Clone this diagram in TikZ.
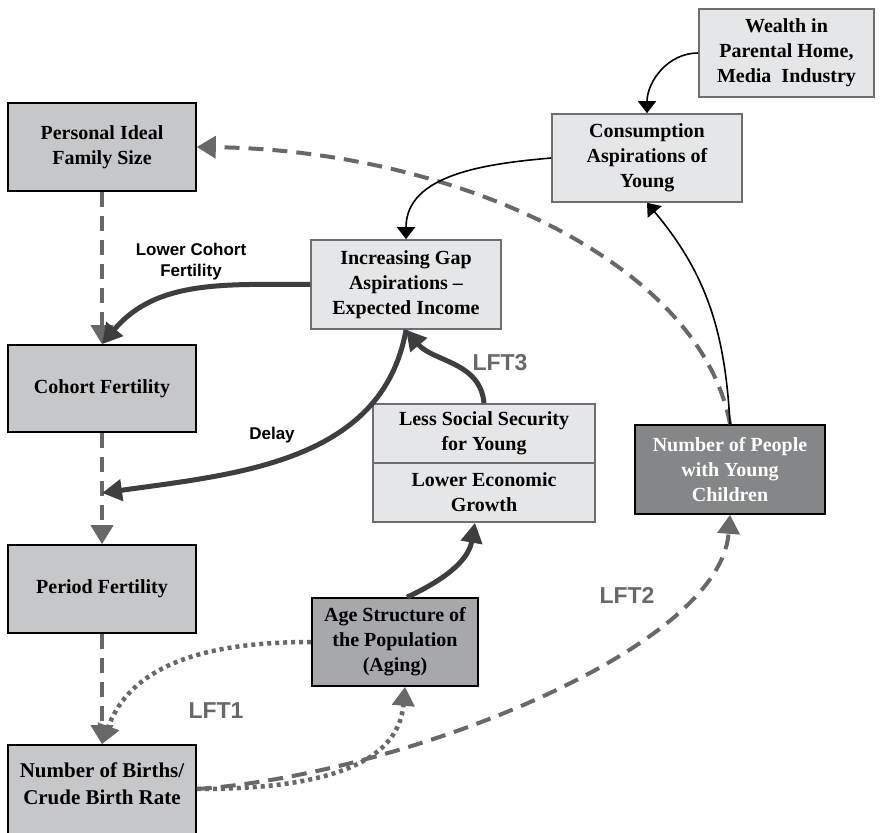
\documentclass[tikz,border=0pt]{standalone}
\usepackage{fontspec}
\setmainfont{Liberation Serif}
\setsansfont{Liberation Sans}
\usetikzlibrary{arrows.meta}
\definecolor{gfill}{HTML}{C6C7C9}
\definecolor{lfill}{HTML}{E5E6E7}
\definecolor{lborder}{HTML}{6D6E71}
\definecolor{afill}{HTML}{A6A8AB}
\definecolor{pfill}{HTML}{858688}
\definecolor{dgray}{HTML}{67686A}
\definecolor{dkline}{HTML}{3E3E40}
\tikzset{
  base/.style={align=center, font=\fontsize{20}{25}\selectfont\bfseries, inner sep=0pt},
  gbox/.style={base, draw=black, line width=1.6pt, fill=gfill},
  lbox/.style={base, draw=lborder, line width=1.6pt, fill=lfill},
  abox/.style={base, draw=black, line width=1.6pt, fill=afill},
  pbox/.style={base, draw=black, line width=1.6pt, fill=pfill, text=white},
  dashline/.style={draw=dgray, line width=4pt, dash pattern=on 15pt off 9pt, -{Triangle[length=19pt,width=22pt]}},
  dotline/.style={draw=dgray, line width=4.5pt, dash pattern=on 4pt off 4pt, -{Triangle[length=19pt,width=22pt]}},
  thickline/.style={draw=dkline, line width=5pt, -{Triangle[length=20pt,width=21pt]}},
  thinline/.style={draw=black, line width=1.6pt, -{Triangle[length=12pt,width=18pt]}},
  lftlabel/.style={font=\sffamily\bfseries\fontsize{23}{23}\selectfont, text=dgray, inner sep=0pt},
  smlabel/.style={font=\sffamily\bfseries\fontsize{17}{21}\selectfont, align=center, inner sep=0pt},
}
\begin{document}
\begin{tikzpicture}[x=1pt,y=1pt]
\useasboundingbox (0,0) rectangle (885,832);
% boxes
\node[gbox, minimum width=188, minimum height=88] (pers) at (102,685) {Personal Ideal\\Family Size};
\node[gbox, minimum width=188, minimum height=87] (coh) at (102,443.5) {Cohort Fertility};
\node[gbox, minimum width=188, minimum height=88] (per) at (102,243) {Period Fertility};
\node[gbox, minimum width=188, minimum height=100] (births) at (102,37) {};
\coordinate (birthsout) at ([yshift=6pt]births.east);
\node[base, font=\fontsize{21}{27}\selectfont\bfseries] (birthst) at (102,48) {Number of Births/\\Crude Birth Rate};
\node[lbox, minimum width=190, minimum height=89] (inc) at (406,547.5) {Increasing Gap\\Aspirations --\\Expected Income};
\node[lbox, minimum width=222, minimum height=59] (lss) at (484,398.5) {Less Social Security\\for Young};
\node[lbox, minimum width=222, minimum height=59] (leg) at (484,339.5) {Lower Economic\\Growth};
\node[lbox, minimum width=190, minimum height=88] (cons) at (647,674) {Consumption\\Aspirations of\\Young};
\node[lbox, minimum width=175, minimum height=88] (wealth) at (786.5,779) {Wealth in\\Parental Home,\\Media\ \ Industry};
\node[pbox, minimum width=190, minimum height=89] (people) at (730,362.5) {Number of People\\with Young\\Children};
\node[abox, minimum width=166, minimum height=88] (age) at (395,190) {Age Structure of\\the Population\\(Aging)};
\coordinate (delayend) at (102,339);
% labels
\node[smlabel] (lclab) at (191,570) {Lower Cohort\\Fertility};
\node[smlabel] (delaylab) at (272,397) {Delay};
\node[lftlabel] (lft3) at (500,469) {LFT3};
\node[lftlabel] (lft1) at (216,121) {LFT1};
\node[lftlabel] (lft2) at (627,237) {LFT2};
% dashed vertical chain
\draw[dashline] (pers.south) -- (coh.north);
\draw[dashline] (coh.south) -- (per.north);
\draw[dashline] (per.south) -- (births.north);
% dotted loops
\draw[dotline] (age.west) to[out=180,in=70] (births.north);
\draw[dotline] (birthsout) to[out=0,in=-95] ([xshift=10pt]age.south);
% dashed long arcs
\draw[dashline] (birthsout) .. controls (400,57) and (720,182) .. (people.south);
\draw[dashline] (people.north) .. controls (700,572) and (450,682) .. (pers.east);
% thick arrows
\draw[thickline] (inc.west) to[out=180,in=50] (coh.north);
\draw[thickline] (inc.south) to[out=-100,in=8] (delayend);
\draw[thickline] (lss.north) to[out=95,in=-50] (inc.south);
\draw[thickline] ([xshift=12pt]age.north) to[out=25,in=-100] ([xshift=-9pt]leg.south);
% thin arrows
\draw[thinline] (people.north) to[out=93,in=-50] (cons.south);
\draw[thinline] (cons.west) to[out=185,in=90] (inc.north);
\draw[thinline] (wealth.west) to[out=180,in=90] (cons.north);
\end{tikzpicture}
\end{document}
